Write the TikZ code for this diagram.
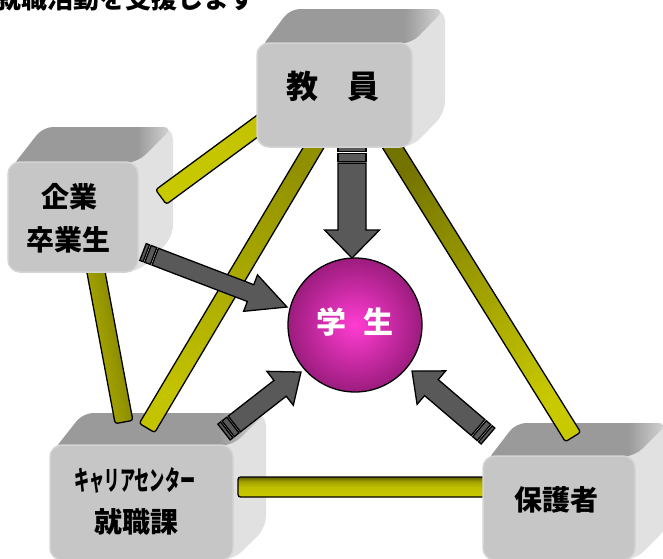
\documentclass[tikz,border=0pt]{standalone}
\usepackage{fontspec}
\usepackage{graphicx}
\setmainfont{Noto Sans CJK JP}
\usetikzlibrary{calc}
\definecolor{frontc}{HTML}{C6C6C6}
\definecolor{frontrim}{HTML}{D4D4D4}
\definecolor{sidec}{HTML}{E1E1E1}
\definecolor{topA}{HTML}{9A9A9A}
\definecolor{topB}{HTML}{D8D8D8}
\definecolor{arrowc}{HTML}{595959}
\definecolor{pinkin}{HTML}{FF3CD2}
\definecolor{pinkout}{HTML}{9C1C7E}
\definecolor{olY}{HTML}{C9C900}
\definecolor{olY2}{HTML}{BFBF00}
\definecolor{olM}{HTML}{A0A000}
\definecolor{olD}{HTML}{5E5E00}
\pgfdeclarehorizontalshading{topsh}{100bp}{color(0bp)=(topA); color(64bp)=(topA); color(75bp)=(topB); color(100bp)=(topB)}
\pgfdeclareverticalshading{hbar}{100bp}{color(0bp)=(olY); color(25bp)=(olY); color(50bp)=(olY2); color(64bp)=(olM); color(75bp)=(olD); color(100bp)=(olD)}
\newcommand\sdcube[7]{%
  \fill[sidec, rounded corners=12pt] (#2,#3+14) -- (#2+#6,#3+#7) -- (#4+#6,#3+#7) -- (#4+#6,#5+#7) -- (#4,#5) -- (#2,#5) -- cycle;
  \path[shade, shading=topsh, rounded corners=10pt] (#2+3,#3+6) -- (#2+#6,#3+#7) -- (#4+#6,#3+#7) -- (#4,#3) -- cycle;
  \node[frontface, minimum width=#4-#2, minimum height=#5-#3] (#1) at ({(#2+#4)/2},{(#3+#5)/2}) {};}
\newcommand\sdmeasure[2]{\path let \p1=($(#2)-(#1)$) in \pgfextra{\pgfmathsetmacro\sdtmpa{atan2(\y1,\x1)}\pgfmathsetmacro\sdtmpl{veclen(\x1,\y1)}\xdef\segang{\sdtmpa}\xdef\seglen{\sdtmpl}};}
\newcommand\stripearrow[7]{%
  \sdmeasure{#1}{#2}%
  \begin{scope}[shift={(#1)},rotate=\segang]
    \draw[arrowsty] (0,-#3) rectangle (#6,#3);
    \draw[arrowsty] ({#6+1.8},-#3) rectangle ({#6+1.8+#7},#3);
    \draw[arrowsty] ({#6+#7+3.6},-#3) -- ({\seglen-#5},-#3) -- ({\seglen-#5},-#4) -- (\seglen,0) -- ({\seglen-#5},#4) -- ({\seglen-#5},#3) -- ({#6+#7+3.6},#3) -- cycle;
  \end{scope}}
\newcommand\olivebar[5]{%
  \pgfmathanglebetweenpoints{\pgfpointanchor{#1}{center}}{\pgfpointanchor{#2}{center}}%
  \pgfmathsetmacro\shang{\pgfmathresult+#4}%
  \draw[barsty, #5, shading angle=\shang] ($(#1)!#3!90:(#2)$) -- ($(#1)!#3!-90:(#2)$) -- ($(#2)!#3!90:(#1)$) -- ($(#2)!#3!-90:(#1)$) -- cycle;}
\begin{document}
\begin{tikzpicture}[x=1pt,y=-1pt,
  frontface/.style={rectangle, rounded corners=12pt, fill=frontc, draw=frontrim, line width=1.5pt, inner sep=0pt},
  barsty/.style={draw=black, line width=1.3pt, rounded corners=2.5pt},
  arrowsty/.style={fill=arrowc, draw=black, line width=1.3pt},
  lbl/.style={inner sep=0pt, font=\bfseries\fontsize{28}{34}\selectfont},
  titlesty/.style={inner sep=0pt, font=\bfseries\fontsize{26}{30}\selectfont}]
\useasboundingbox (0,0) rectangle (663,558);
\clip (0,0) rectangle (663,558);
\node[titlesty, anchor=base west] (title) at (-5,8) {就職活動を支援します};
% career centre box
\sdcube{career}{50}{445}{233}{560}{33}{-32}
\node[lbl, font=\bfseries\fontsize{27}{30}\selectfont] (careertxt1) at (135,481) {\scalebox{0.56}[1]{キャリアセンター}};
\node[lbl] (careertxt2) at (136,522) {就職課};
% horizontal bar
\coordinate (b5s) at (238,487);
\coordinate (b5e) at (495,487);
\olivebar{b5s}{b5e}{10pt}{0}{shade, shading=hbar}
% parents box
\sdcube{hogosha}{483}{456}{635}{560}{33}{-33}
\node[lbl] (hogoshatxt) at (556,500) {保護者};
% bars
\coordinate (b2s) at (90,240);
\coordinate (b2e) at (124,422);
\coordinate (b3s) at (324,130);
\coordinate (b3e) at (147,428);
\coordinate (b4s) at (382,130);
\coordinate (b4e) at (573,437);
\coordinate (b1s) at (161,197);
\coordinate (b1e) at (282,108);
\olivebar{b2s}{b2e}{9pt}{0}{bottom color=olY2, top color=olD!85!olY}
\olivebar{b3s}{b3e}{9pt}{-90}{bottom color=olM!90!black, top color=olY!85!olM}
\olivebar{b4s}{b4e}{9pt}{-90}{bottom color=olD!80!olY, top color=olY}
% company box
\sdcube{kigyo}{8}{162}{138}{272}{35}{-35}
\node[lbl] (kigyotxt1) at (69,197) {企業};
\node[lbl] (kigyotxt2) at (68,240) {卒業生};
\olivebar{b1s}{b1e}{9pt}{-90}{bottom color=olY, top color=olY!80!olM}
% arrows
\coordinate (a1t) at (352,147);
\coordinate (a1h) at (352,258);
\coordinate (a2t) at (143,252);
\coordinate (a2h) at (287,307);
\coordinate (a3t) at (224,432);
\coordinate (a3h) at (301,372);
\coordinate (a4t) at (488,436);
\coordinate (a4h) at (412,371);
\stripearrow{a1t}{a1h}{14}{27.5}{28}{4.5}{8}
% faculty box
\sdcube{kyoin}{257}{43}{412}{147}{33}{-34}
\node[lbl, font=\bfseries\fontsize{32}{36}\selectfont] (kyointxt) at (333,86) {教\hspace{30pt}員};
\stripearrow{a2t}{a2h}{9}{19.5}{39}{3.5}{6}
\stripearrow{a3t}{a3h}{10}{21.5}{26.5}{3.5}{6}
\stripearrow{a4t}{a4h}{10.5}{22}{25.5}{3.5}{6}
% student circle
\node[circle, minimum size=134pt, inner sep=0pt, draw=black, line width=1.3pt, inner color=pinkin, outer color=pinkout] (gakusei) at (355,325) {};
\node[lbl, text=white, font=\bfseries\fontsize{30}{34}\selectfont] (gakuseitxt) at (355,322) {学\hspace{17pt}生};
\end{tikzpicture}
\end{document}
